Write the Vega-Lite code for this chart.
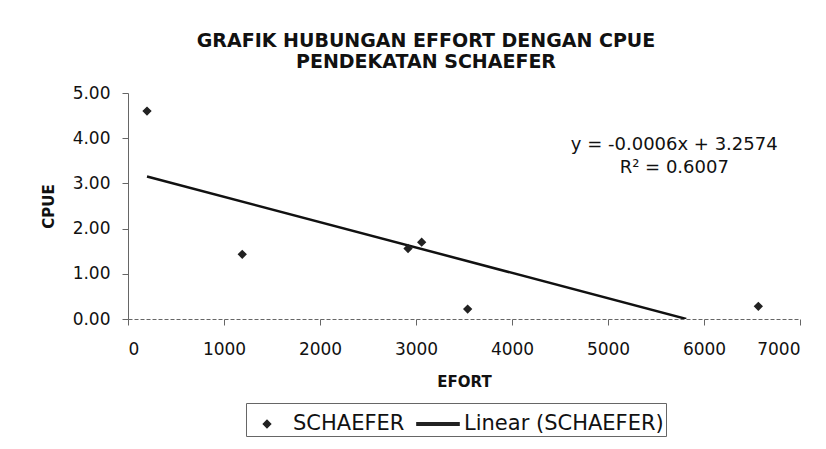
{
  "$schema": "https://vega.github.io/schema/vega-lite/v6.json",
  "width": 672,
  "height": 226,
  "autosize": {"type": "none"},
  "padding": {"left": 128, "top": 93, "right": 26, "bottom": 130},
  "background": "white",
  "config": {
    "view": {"stroke": null},
    "font": "DejaVu Sans",
    "axis": {"grid": false, "domainColor": "#666", "tickColor": "#666", "labelColor": "#111", "titleColor": "#111", "labelFont": "DejaVu Sans", "titleFont": "DejaVu Sans"}
  },
  "title": {
    "text": ["GRAFIK HUBUNGAN EFFORT DENGAN CPUE", "PENDEKATAN SCHAEFER"],
    "anchor": "middle",
    "font": "DejaVu Sans",
    "fontSize": 19,
    "fontWeight": "bold",
    "color": "#111",
    "lineHeight": 21,
    "offset": 12,
    "dx": -38
  },
  "datasets": {
    "pts": [
      {"EFORT": 198, "CPUE": 4.60, "series": "SCHAEFER"},
      {"EFORT": 1190, "CPUE": 1.43, "series": "SCHAEFER"},
      {"EFORT": 2917, "CPUE": 1.56, "series": "SCHAEFER"},
      {"EFORT": 3059, "CPUE": 1.70, "series": "SCHAEFER"},
      {"EFORT": 3538, "CPUE": 0.22, "series": "SCHAEFER"},
      {"EFORT": 6566, "CPUE": 0.28, "series": "SCHAEFER"}
    ],
    "ann": [
      {"EFORT": 5690, "CPUE": 3.85, "label": "y = -0.0006x + 3.2574"},
      {"EFORT": 5690, "CPUE": 3.34, "label": "R² = 0.6007"}
    ]
  },
  "layer": [
    {
      "data": {"name": "pts"},
      "transform": [{"regression": "CPUE", "on": "EFORT", "extent": [198, 5815]}],
      "mark": {"type": "line", "color": "#111", "strokeWidth": 2.5, "clip": true},
      "encoding": {
        "x": {"field": "EFORT", "type": "quantitative", "scale": {"domain": [0, 7000], "nice": false}},
        "y": {"field": "CPUE", "type": "quantitative", "scale": {"domain": [0, 5], "nice": false}}
      }
    },
    {
      "data": {"name": "pts"},
      "mark": {"type": "point", "filled": true, "color": "#222", "stroke": "#222", "strokeWidth": 1.5, "opacity": 1, "size": 1296},
      "encoding": {
        "x": {"field": "EFORT", "type": "quantitative",
          "axis": {"values": [0,1000,2000,3000,4000,5000,6000,7000], "format": "d", "labelFontSize": 17, "tickSize": 6, "labelPadding": 16, "title": "EFORT", "titleFontSize": 15, "titleFontWeight": "bold", "titlePadding": 17, "domainDash": [4,2]}},
        "y": {"field": "CPUE", "type": "quantitative",
          "axis": {"values": [0,1,2,3,4,5], "format": ".2f", "labelFontSize": 17, "tickSize": 6, "labelPadding": 12, "title": "CPUE", "titleFontSize": 15, "titleFontWeight": "bold", "titlePadding": 16}},
        "shape": {"field": "series", "type": "nominal",
          "scale": {"domain": ["SCHAEFER", "Linear (SCHAEFER)"], "range": ["M-0.2,0L0,-0.2L0.2,0L0,0.2Z", "M-1.17,-0.07H1.17V0.07H-1.17Z"]},
          "legend": {"title": null, "orient": "none", "legendX": 118, "legendY": 310, "direction": "horizontal",
            "labelFontSize": 21, "labelFont": "DejaVu Sans", "labelColor": "#111", "labelLimit": 500,
            "symbolSize": 1296, "symbolFillColor": "#222", "symbolOpacity": 1,
            "strokeColor": "#666", "padding": 2, "columnPadding": 8, "labelOffset": 7,
            "encode": {
              "legend": {"update": {"strokeDash": {"value": [3, 2]}, "stroke": {"value": "#666"}}}
            }}}
      }
    },
    {
      "data": {"name": "ann"},
      "mark": {"type": "text", "fontSize": 18, "font": "DejaVu Sans", "color": "#111", "align": "center", "baseline": "middle"},
      "encoding": {
        "x": {"field": "EFORT", "type": "quantitative"},
        "y": {"field": "CPUE", "type": "quantitative"},
        "text": {"field": "label"}
      }
    }
  ]
}
